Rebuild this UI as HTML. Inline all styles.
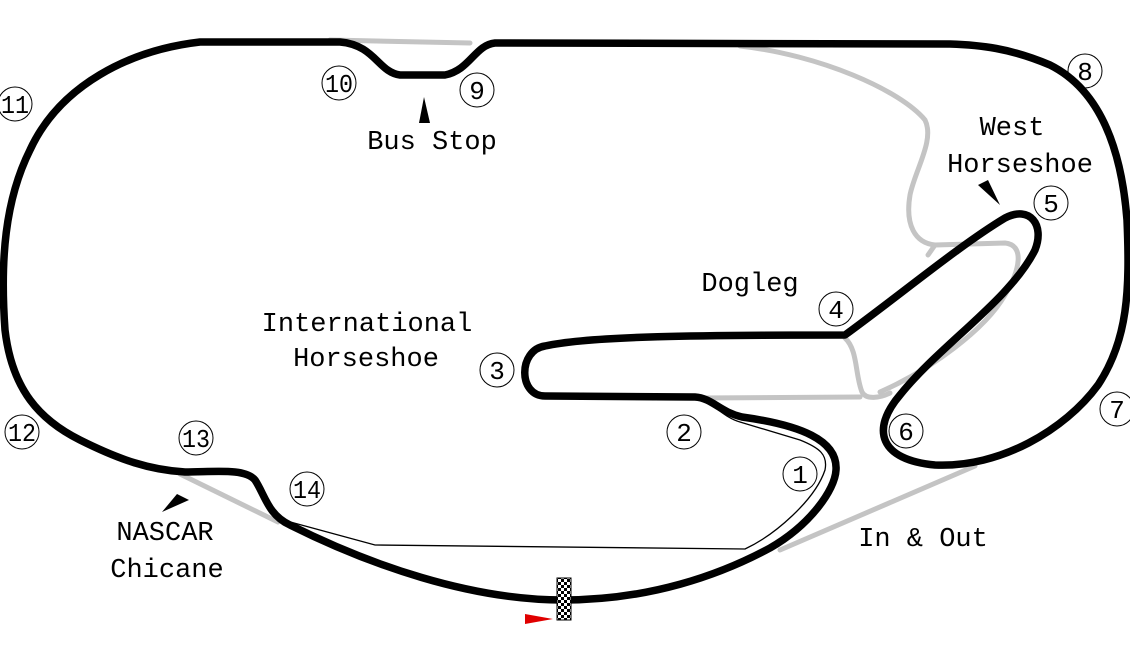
<!DOCTYPE html>
<html><head><style>
html,body{margin:0;padding:0;background:#fff;}
svg{display:block;}
text{font-family:"Liberation Mono","Noto Serif CJK SC",monospace;fill:#000;}
</style></head><body>
<svg width="1130" height="650" viewBox="0 0 1130 650" xmlns="http://www.w3.org/2000/svg">
<defs>
<pattern id="chk" width="6" height="6" patternUnits="userSpaceOnUse">
<rect width="6" height="6" fill="#fff"/><rect width="3" height="3" fill="#000"/><rect x="3" y="3" width="3" height="3" fill="#000"/>
</pattern>
</defs>
<g fill="none" stroke="#c4c4c4" stroke-width="5" stroke-linecap="round">
<path d="M330,40 L470,43"/>
<path d="M740,46 C820,55 900,90 925,120 C935,140 915,170 910,195 C905,225 915,243 935,245 L1005,243 C1025,245 1020,270 1005,295 C985,330 930,370 880,392"/>
<path d="M845,338 C858,350 855,375 862,392 C866,400 880,398 890,393"/>
<path d="M700,398 L860,397"/>
<path d="M935,245 L928,255"/>
<path d="M180,474 L278,522"/>
<path d="M780,550 L975,466"/>
</g>
<g fill="none" stroke="#000" stroke-width="1.3">
<path d="M283,520 L375,545 L745,549 C775,535 815,500 825,470 C828,455 820,448 800,440 L740,422 C725,418 715,405 702,400"/>
</g>
<path fill="none" stroke="#000" stroke-width="7.5" stroke-linejoin="round" stroke-linecap="round"
d="M563,600 C650,600 720,575 770,548 C810,525 835,490 836,470 C838,440 800,425 742,417 C720,412 712,398 695,397 L545,396 C518,396 518,350 545,346 C590,336 700,335 845,335 C900,295 960,245 1005,218 C1030,205 1045,225 1035,250 C1010,300 940,345 900,395 C870,430 880,460 935,465 C1000,468 1065,430 1098,385 C1128,340 1130,290 1127,220 C1120,130 1090,85 1050,65 C1010,48 980,45 950,44 L495,43 C475,45 470,70 445,75 L400,75 C378,72 375,45 340,42 L200,42 C130,50 60,85 30,150 C5,200 0,260 5,330 C12,390 40,420 80,440 C120,460 150,470 185,472 C215,472 245,468 255,480 C265,495 268,515 290,525 C370,565 470,600 563,600 Z"/>
<rect x="557" y="578" width="14" height="42" fill="url(#chk)" stroke="#000" stroke-width="1"/>
<polygon points="525,614 525,624 553,619" fill="#e00000"/>
<polygon points="424,97 419,123 430,123" fill="#000"/>
<polygon points="978,185 988,180 1000,205" fill="#000"/>
<polygon points="162,512 177,494 189,500" fill="#000"/>
<g fill="none" stroke="#000" stroke-width="1">
<circle cx="800" cy="474" r="17"/><circle cx="684" cy="432" r="17"/><circle cx="497" cy="370" r="17"/>
<circle cx="836" cy="309" r="17"/><circle cx="1051" cy="203" r="17"/><circle cx="906" cy="431" r="17"/>
<circle cx="1117" cy="409" r="17"/><circle cx="1085" cy="71" r="17"/><circle cx="477" cy="90" r="17"/>
<circle cx="339" cy="83" r="17"/><circle cx="15" cy="104" r="17"/><circle cx="22" cy="432" r="17"/>
<circle cx="196" cy="438" r="17"/><circle cx="307" cy="489" r="17"/>
</g>
<g font-size="26" text-anchor="middle" style="font-family:'Liberation Serif',serif">
<text x="800" y="483">1</text><text x="684" y="441">2</text><text x="497" y="379">3</text>
<text x="836" y="318">4</text><text x="1051" y="212">5</text><text x="906" y="440">6</text>
<text x="1117" y="418">7</text><text x="1085" y="80">8</text><text x="477" y="99">9</text>
<text x="339" y="92" textLength="28" lengthAdjust="spacingAndGlyphs">10</text>
<text x="15" y="113" textLength="28" lengthAdjust="spacingAndGlyphs">11</text>
<text x="22" y="441" textLength="28" lengthAdjust="spacingAndGlyphs">12</text>
<text x="196" y="447" textLength="28" lengthAdjust="spacingAndGlyphs">13</text>
<text x="307" y="498" textLength="28" lengthAdjust="spacingAndGlyphs">14</text>
</g>
<g font-size="27" text-anchor="middle">
<text x="1012" y="135">West</text>
<text x="1020" y="172">Horseshoe</text>
<text x="432" y="149">Bus Stop</text>
<text x="750" y="291">Dogleg</text>
<text x="367" y="331">International</text>
<text x="366" y="366">Horseshoe</text>
<text x="165" y="540">NASCAR</text>
<text x="167" y="577">Chicane</text>
<text x="923" y="546">In &amp; Out</text>
</g>
</svg>
</body></html>
